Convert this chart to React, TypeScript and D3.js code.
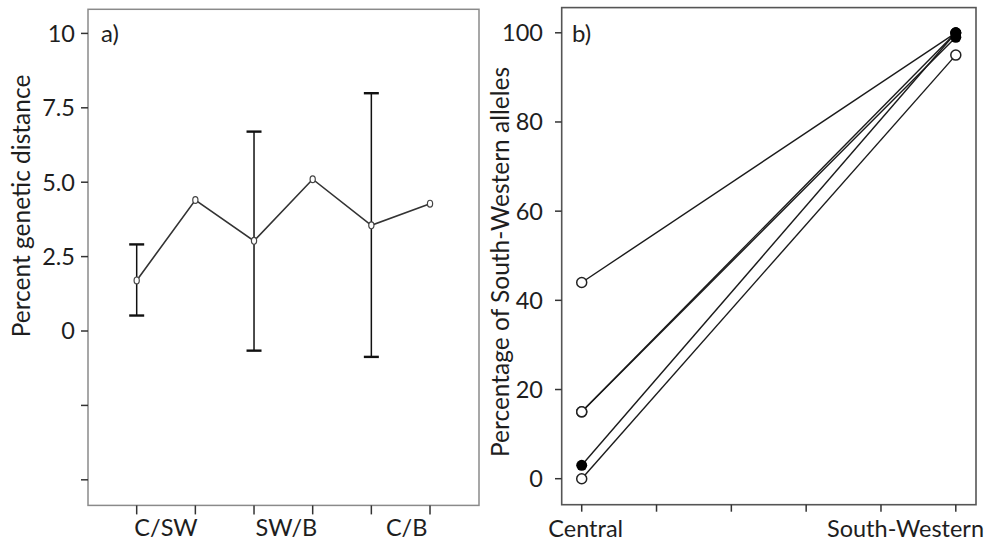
import React from "react";
import * as d3 from "d3";

// ---- Panel a data ----
const pairLabels = ["C/SW", "SW/B", "C/B"];
const distValues = [1.7, 4.4, 3.03, 5.1, 3.55, 4.28];
const errLow: (number | null)[] = [0.52, null, -0.66, null, -0.87, null];
const errHigh: (number | null)[] = [2.91, null, 6.7, null, 7.99, null];
const aTickValues = [10, 7.5, 5, 2.5, 0, -2.5, -5];
const aTickLabels = ["10", "7.5", "5.0", "2.5", "0", "", ""];

// ---- Panel b data ----
const regionLabels = ["Central", "South-Western"];
const centralValues = [44, 15, 15, 3, 0];
const swValues = [100, 100, 99, 100, 95];
const centralFilled = [false, false, false, true, false];
const swFilled = [true, true, true, true, false];
const bTickValues = [0, 20, 40, 60, 80, 100];
const bXTicks = [0, 0.2, 0.4, 0.6, 0.8, 1.0];

const FONT = "Lato, 'Open Sans', sans-serif";
const TXT = "#1e1e1e";

export default function App() {
  // Panel a scales
  const ax = d3.scaleLinear().domain([-0.83, 5.835]).range([88, 479]);
  const ay = d3.scaleLinear().domain([-5.86, 10.81]).range([505.4, 9.3]);
  const aLine = d3
    .line<number>()
    .x((_, i) => ax(i))
    .y((d) => ay(d));

  // Panel b scales
  const bx = d3.scaleLinear().domain([-0.0535, 1.054]).range([561.7, 976]);
  const by = d3.scaleLinear().domain([-5.83, 105.65]).range([504.7, 7.6]);

  const aBottom = ay(-5.86);
  const bBottom = by(-5.83);

  return (
    <svg
      width={986}
      height={542}
      style={{ position: "absolute", left: 0, top: 0, background: "#fff" }}
      fontFamily={FONT}
    >
      <rect x={0} y={0} width={986} height={542} fill="#fff" />

      {/* ================= Panel a ================= */}
      <rect
        x={ax(-0.83)}
        y={ay(10.81)}
        width={ax(5.835) - ax(-0.83)}
        height={ay(-5.86) - ay(10.81)}
        fill="none"
        stroke="#8a8a8a"
        strokeWidth={1.5}
      />
      {aTickValues.map((v, i) => (
        <g key={"ayt" + i}>
          <line x1={81} x2={88} y1={ay(v)} y2={ay(v)} stroke="#333" strokeWidth={1.5} />
          <text x={75} y={ay(v)} dy="0.36em" textAnchor="end" fontSize={23.5} fill={TXT}>
            {aTickLabels[i]}
          </text>
        </g>
      ))}
      {distValues.map((_, i) => (
        <line
          key={"axt" + i}
          x1={ax(i)}
          x2={ax(i)}
          y1={aBottom}
          y2={aBottom + 9}
          stroke="#333"
          strokeWidth={1.5}
        />
      ))}
      {pairLabels.map((l, g) => (
        <text
          key={"axl" + g}
          x={(ax(2 * g) + ax(2 * g + 1)) / 2 + g * 3}
          y={536}
          textAnchor="middle"
          fontSize={23.5}
          fill={TXT}
        >
          {l}
        </text>
      ))}
      <text
        transform={`translate(21,${206}) rotate(-90)`}
        textAnchor="middle"
        dy="0.35em"
        fontSize={24.5}
        fill={TXT}
      >
        Percent genetic distance
      </text>
      <text x={101} y={42} fontSize={24} fill={TXT}>
        a)
      </text>

      {/* error bars */}
      {distValues.map((_, i) =>
        errLow[i] === null ? null : (
          <g key={"eb" + i} stroke="#111">
            <line
              x1={ax(i)}
              x2={ax(i)}
              y1={ay(errLow[i] as number)}
              y2={ay(errHigh[i] as number)}
              strokeWidth={1.5}
            />
            <line
              x1={ax(i) - 7.5}
              x2={ax(i) + 7.5}
              y1={ay(errLow[i] as number)}
              y2={ay(errLow[i] as number)}
              strokeWidth={2.4}
            />
            <line
              x1={ax(i) - 7.5}
              x2={ax(i) + 7.5}
              y1={ay(errHigh[i] as number)}
              y2={ay(errHigh[i] as number)}
              strokeWidth={2.4}
            />
          </g>
        )
      )}
      <path d={aLine(distValues) || ""} fill="none" stroke="#333" strokeWidth={1.6} />
      {distValues.map((v, i) => (
        <ellipse
          key={"am" + i}
          cx={ax(i)}
          cy={ay(v)}
          rx={2.6}
          ry={3.4}
          fill="#fff"
          stroke="#444"
          strokeWidth={1.2}
        />
      ))}

      {/* ================= Panel b ================= */}
      <rect
        x={bx(-0.0535)}
        y={by(105.65)}
        width={bx(1.054) - bx(-0.0535)}
        height={by(-5.83) - by(105.65)}
        fill="none"
        stroke="#555"
        strokeWidth={1.6}
      />
      {bTickValues.map((v) => (
        <g key={"byt" + v}>
          <line x1={555} x2={561.7} y1={by(v)} y2={by(v)} stroke="#333" strokeWidth={1.5} />
          <text x={543} y={by(v)} dy="0.36em" textAnchor="end" fontSize={23.5} fill={TXT}>
            {v}
          </text>
        </g>
      ))}
      {bXTicks.map((t) => (
        <line
          key={"bxt" + t}
          x1={bx(t)}
          x2={bx(t)}
          y1={bBottom}
          y2={bBottom + 7}
          stroke="#333"
          strokeWidth={1.5}
        />
      ))}
      <text x={bx(0) + 4} y={537} textAnchor="middle" fontSize={23.5} fill={TXT}>
        {regionLabels[0]}
      </text>
      <text x={984} y={537} textAnchor="end" fontSize={23.5} fill={TXT}>
        {regionLabels[1]}
      </text>
      <text
        transform={`translate(500,${262}) rotate(-90)`}
        textAnchor="middle"
        dy="0.35em"
        fontSize={24.5}
        fill={TXT}
      >
        Percentage of South-Western alleles
      </text>
      <text x={572} y={42} fontSize={24} fill={TXT}>
        b)
      </text>

      {centralValues.map((c, i) => (
        <line
          key={"bl" + i}
          x1={bx(0)}
          y1={by(c)}
          x2={bx(1)}
          y2={by(swValues[i])}
          stroke="#1a1a1a"
          strokeWidth={1.4}
        />
      ))}
      {/* open markers first, filled on top */}
      {centralValues.map((c, i) =>
        centralFilled[i] ? null : (
          <circle key={"bco" + i} cx={bx(0)} cy={by(c)} r={5} fill="#fff" stroke="#222" strokeWidth={1.5} />
        )
      )}
      {swValues.map((s, i) =>
        swFilled[i] ? null : (
          <circle key={"bso" + i} cx={bx(1)} cy={by(s)} r={5} fill="#fff" stroke="#222" strokeWidth={1.5} />
        )
      )}
      {centralValues.map((c, i) =>
        centralFilled[i] ? (
          <circle key={"bcf" + i} cx={bx(0)} cy={by(c)} r={5.5} fill="#000" />
        ) : null
      )}
      {swValues.map((s, i) =>
        swFilled[i] ? <circle key={"bsf" + i} cx={bx(1)} cy={by(s)} r={5.5} fill="#000" /> : null
      )}
    </svg>
  );
}
